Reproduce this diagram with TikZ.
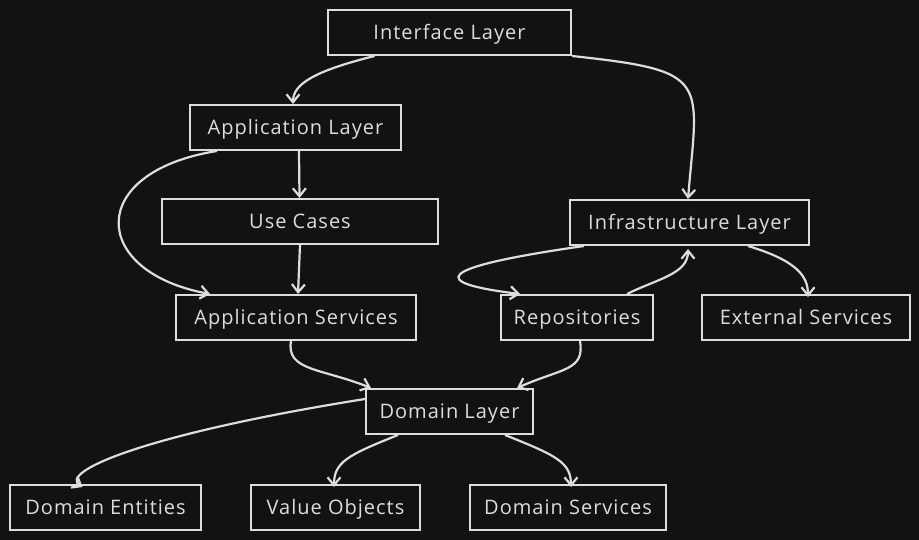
\documentclass[tikz,border=0pt]{standalone}
\usepackage{fontspec}
\setmainfont{Open Sans}[LetterSpace=5]
\usetikzlibrary{arrows.meta}
\definecolor{bgdark}{HTML}{121212}
\definecolor{inkgray}{HTML}{DDDDDD}

\begin{document}
\begin{tikzpicture}[x=1pt,y=-1pt,->,>={Straight Barb[length=8pt,width=13pt]},line width=2.2pt,color=inkgray,
    layer box/.style={draw,line width=2pt,font=\fontsize{20}{24}\selectfont,minimum height=45pt,inner sep=0pt,text height=14.5pt,text depth=0.5pt},
    sketch curve/.style 2 args={to path={.. controls #1 and #2 .. (\tikztotarget)}}]
    \fill[bgdark,-] (0,0) rectangle (919,540);
    \useasboundingbox (0,0) rectangle (919,540);

    \node[layer box,minimum width=243pt] (iface) at (449.5,32.5) {Interface Layer};
    \node[layer box,minimum width=211pt] (app) at (295.5,127.5) {Application Layer};
    \node[layer box,minimum width=276pt] (cases) at (300,221.5) {Use Cases};
    \node[layer box,minimum width=240pt] (appsvc) at (296,317.5) {Application Services};
    \node[layer box,minimum width=239pt] (infra) at (689.5,222.5) {Infrastructure Layer};
    \node[layer box,minimum width=152pt] (repo) at (577,317.5) {Repositories};
    \node[layer box,minimum width=208pt] (extsvc) at (806,317.5) {External Services};
    \node[layer box,minimum width=167pt] (domain) at (449.5,411.5) {Domain Layer};
    \node[layer box,minimum width=191pt] (entity) at (105.5,507.5) {Domain Entities};
    \node[layer box,minimum width=169pt] (valobj) at (335.5,507.5) {Value Objects};
    \node[layer box,minimum width=196pt] (domsvc) at (568,507.5) {Domain Services};

    \path
        ([xshift=-75pt]iface.south) edge[sketch curve={+(-60,15)}{+(0,-20)}] ([xshift=-2.5pt]app.north)
        (iface.south east) edge[sketch curve={+(140,15)}{+(10,-120)}] ([xshift=-1.5pt]infra.north)
        ([xshift=3.5pt]app.south) edge ([xshift=-0.5pt]cases.north)
        ([xshift=28pt]app.south west) edge[sketch curve={(85,172)}{(90,272)}] ([xshift=-86pt]appsvc.north)
        (cases.south) edge ([xshift=2pt]appsvc.north)
        ([xshift=15pt]infra.south west) edge[sketch curve={(430,268)}{(430,283)}] ([xshift=-57pt]repo.north)
        ([xshift=50pt]repo.north) edge[sketch curve={+(30,-15)}{+(0,25)}] ([xshift=-1.5pt,yshift=-3pt]infra.south)
        ([xshift=58.5pt]infra.south) edge[sketch curve={+(50,15)}{+(0,-20)}] ([xshift=2pt,yshift=-3pt]extsvc.north)
        ([xshift=-5pt]appsvc.south) edge[sketch curve={+(-5,30)}{+(-50,-20)}] ([xshift=6pt]domain.north west)
        ([xshift=3pt]repo.south) edge[sketch curve={+(5,30)}{+(45,-20)}] ([xshift=-17pt]domain.north east)
        ([yshift=12.5pt]domain.west) edge[sketch curve={+(-220,35)}{+(-25,-15)}] ([xshift=-23pt,yshift=-3pt]entity.north)
        ([xshift=-51.5pt]domain.south) edge[sketch curve={+(-50,20)}{+(0,-25)}] ([xshift=-1.5pt,yshift=-3pt]valobj.north)
        ([xshift=55.5pt]domain.south) edge[sketch curve={+(50,20)}{+(0,-25)}] ([xshift=3pt,yshift=-3pt]domsvc.north)
        ;
\end{tikzpicture}
\end{document}
